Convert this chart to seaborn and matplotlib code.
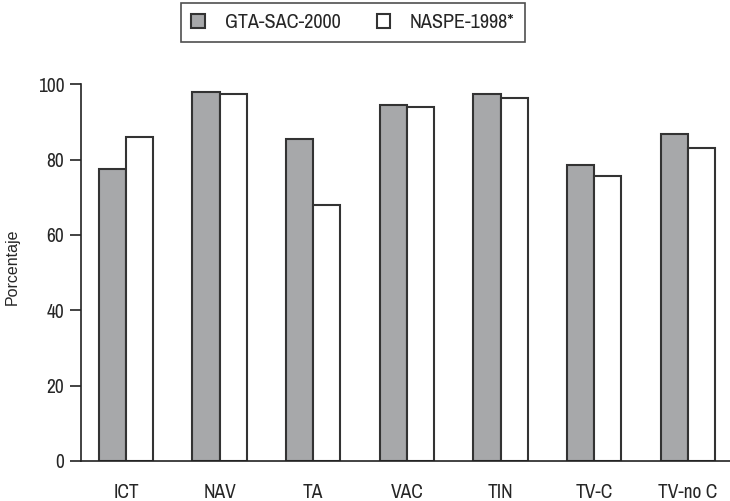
import seaborn as sns
import matplotlib.pyplot as plt
from matplotlib import font_manager
import pandas as pd

# data
categories = ["ICT", "NAV", "TA", "VAC", "TIN", "TV-C", "TV-no C"]
gta_sac_2000 = [77.6, 97.9, 85.4, 94.5, 97.3, 78.6, 86.8]
naspe_1998 = [85.9, 97.3, 68.0, 93.9, 96.2, 75.7, 83.1]
series_names = ["GTA-SAC-2000", "NASPE-1998*"]

df = pd.DataFrame({
    "cat": categories * 2,
    "val": gta_sac_2000 + naspe_1998,
    "serie": [series_names[0]] * len(categories) + [series_names[1]] * len(categories),
})

sns.set_style("ticks")

# look for a narrow face, the original uses a condensed grotesque
narrow = None
for f in font_manager.fontManager.ttflist:
    if "Narrow" in f.name or "Condensed" in f.name:
        narrow = f.name
        break
stretch = "normal"
if narrow is None:
    for f in font_manager.fontManager.ttflist:
        if f.name == "DejaVu Sans" and f.stretch == "condensed":
            narrow = "DejaVu Sans"
            stretch = "condensed"
            break
plt.rcParams['font.family'] = [narrow or 'DejaVu Sans', 'DejaVu Sans']
plt.rcParams['font.stretch'] = stretch

fig = plt.figure(figsize=(7.3, 5.01), dpi=100)
ax = fig.add_axes([0.111, 0.080, 0.889, 0.752])

sns.barplot(data=df, x="cat", y="val", hue="serie", order=categories,
            hue_order=series_names, palette=["#a7a8aa", "#ffffff"],
            width=0.58, edgecolor="#333333", linewidth=1.5, ax=ax)

ax.set_ylim(0, 100)
ax.set_xlim(-0.48, 6.45)
ax.set_yticks([0, 20, 40, 60, 80, 100])
ax.set_xlabel("")
ax.set_ylabel("")
ax.tick_params(axis="y", labelsize=14, length=8, width=1.2, color="#222222", pad=4)
ax.tick_params(axis="x", labelsize=14, length=0, pad=16)
sns.despine(ax=ax)
for s in ["left", "bottom"]:
    ax.spines[s].set_linewidth(1.2)
    ax.spines[s].set_color("#222222")

# y label: wider face, sized so it runs ~77 px like the original
ylab = fig.text(0.0165, 0.468, "Porcentaje", rotation=90, ha="center", va="center",
                family=["Liberation Sans", "Roboto", "DejaVu Sans"], stretch="normal",
                fontsize=11.5)
fig.canvas.draw()
h = ylab.get_window_extent().height
if h > 0:
    ylab.set_fontsize(11.5 * 77.0 / h)

ax.get_legend().remove()
handles, labels = ax.get_legend_handles_labels()
leg = fig.legend(handles[:2], labels[:2], loc="upper center", ncol=2,
                 bbox_to_anchor=(0.4836, 0.994), frameon=True, fancybox=False,
                 edgecolor="#222222", fontsize=14.5, handlelength=0.65,
                 handleheight=0.65, handletextpad=1.0, columnspacing=1.8,
                 borderpad=0.5, borderaxespad=0.0)
leg.get_frame().set_linewidth(1.2)

fig.savefig("out.png", dpi=100)
